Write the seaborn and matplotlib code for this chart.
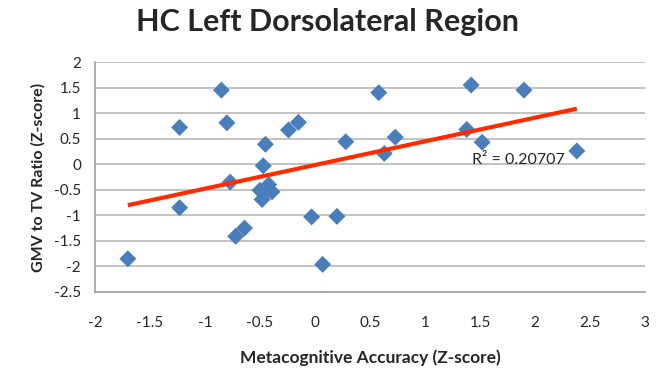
import numpy as np
import pandas as pd
import matplotlib
matplotlib.use('Agg')
import matplotlib.pyplot as plt
import seaborn as sns

# values
meta_acc = [-1.70, -1.23, -1.23, -0.85, -0.80, -0.77, -0.72, -0.64, -0.45, -0.47,
            -0.42, -0.50, -0.39, -0.48, -0.46, -0.24, -0.15, -0.03, 0.07, 0.20,
            0.28, 0.58, 0.63, 0.73, 1.38, 1.42, 1.52, 1.90, 2.38]
gmv_tv = [-1.85, 0.72, -0.85, 1.45, 0.81, -0.35, -1.41, -1.25, 0.39, -0.03,
          -0.40, -0.51, -0.54, -0.69, -0.57, 0.67, 0.82, -1.03, -1.96, -1.02,
          0.44, 1.40, 0.21, 0.53, 0.68, 1.55, 0.43, 1.45, 0.26]
r2_label = 'R\u00b2 = 0.20707'

x_ticks = np.arange(-2, 3.01, 0.5)
y_ticks = np.arange(-2.5, 2.01, 0.5)

df = pd.DataFrame({'x': meta_acc, 'y': gmv_tv})

sns.set_style('white')
plt.rcParams['font.family'] = ['Lato', 'DejaVu Sans']

fig = plt.figure(figsize=(6.68, 3.77), dpi=100)
ax = fig.add_axes([0.142, 0.2255, 0.8236, 0.61])

sns.scatterplot(data=df, x='x', y='y', marker='D', s=75, color='#4a7ebb',
                edgecolor='none', ax=ax, zorder=3)
sns.regplot(data=df, x='x', y='y', scatter=False, ci=None, color='#ff2a00',
            line_kws={'linewidth': 3, 'zorder': 4, 'solid_capstyle': 'butt'},
            truncate=True, ax=ax)

ax.set_xlim(-2, 3)
ax.set_ylim(-2.5, 2)
ax.set_xticks(x_ticks)
ax.set_yticks(y_ticks)
ax.set_xticklabels([f'{v:g}' for v in x_ticks], fontsize=11)
ax.set_yticklabels([f'{v:g}' for v in y_ticks], fontsize=11)
ax.yaxis.grid(True, color='#b8b8b8', linewidth=1.2)
ax.set_axisbelow(True)
for s in ['top', 'right']:
    ax.spines[s].set_visible(False)
for s in ['left', 'bottom']:
    ax.spines[s].set_color('#a0a0a0')
    ax.spines[s].set_linewidth(1.2)
ax.tick_params(axis='x', which='major', direction='out', length=5, color='#a0a0a0', pad=12)
ax.tick_params(axis='y', which='major', direction='inout', length=8, color='#a0a0a0', pad=6)

ax.set_xlabel('Metacognitive Accuracy (Z-score)', fontsize=12.5, fontweight='bold', labelpad=14)
ax.set_ylabel('GMV to TV Ratio (Z-score)', fontsize=11.5, fontweight='bold', labelpad=6)
ax.text(1.43, 0.08, r2_label, fontsize=11.5, va='center', ha='left')

fig.suptitle('HC Left Dorsolateral Region', fontsize=22, fontweight='bold', x=0.49, y=0.98)

fig.savefig('out.png', dpi=100)
